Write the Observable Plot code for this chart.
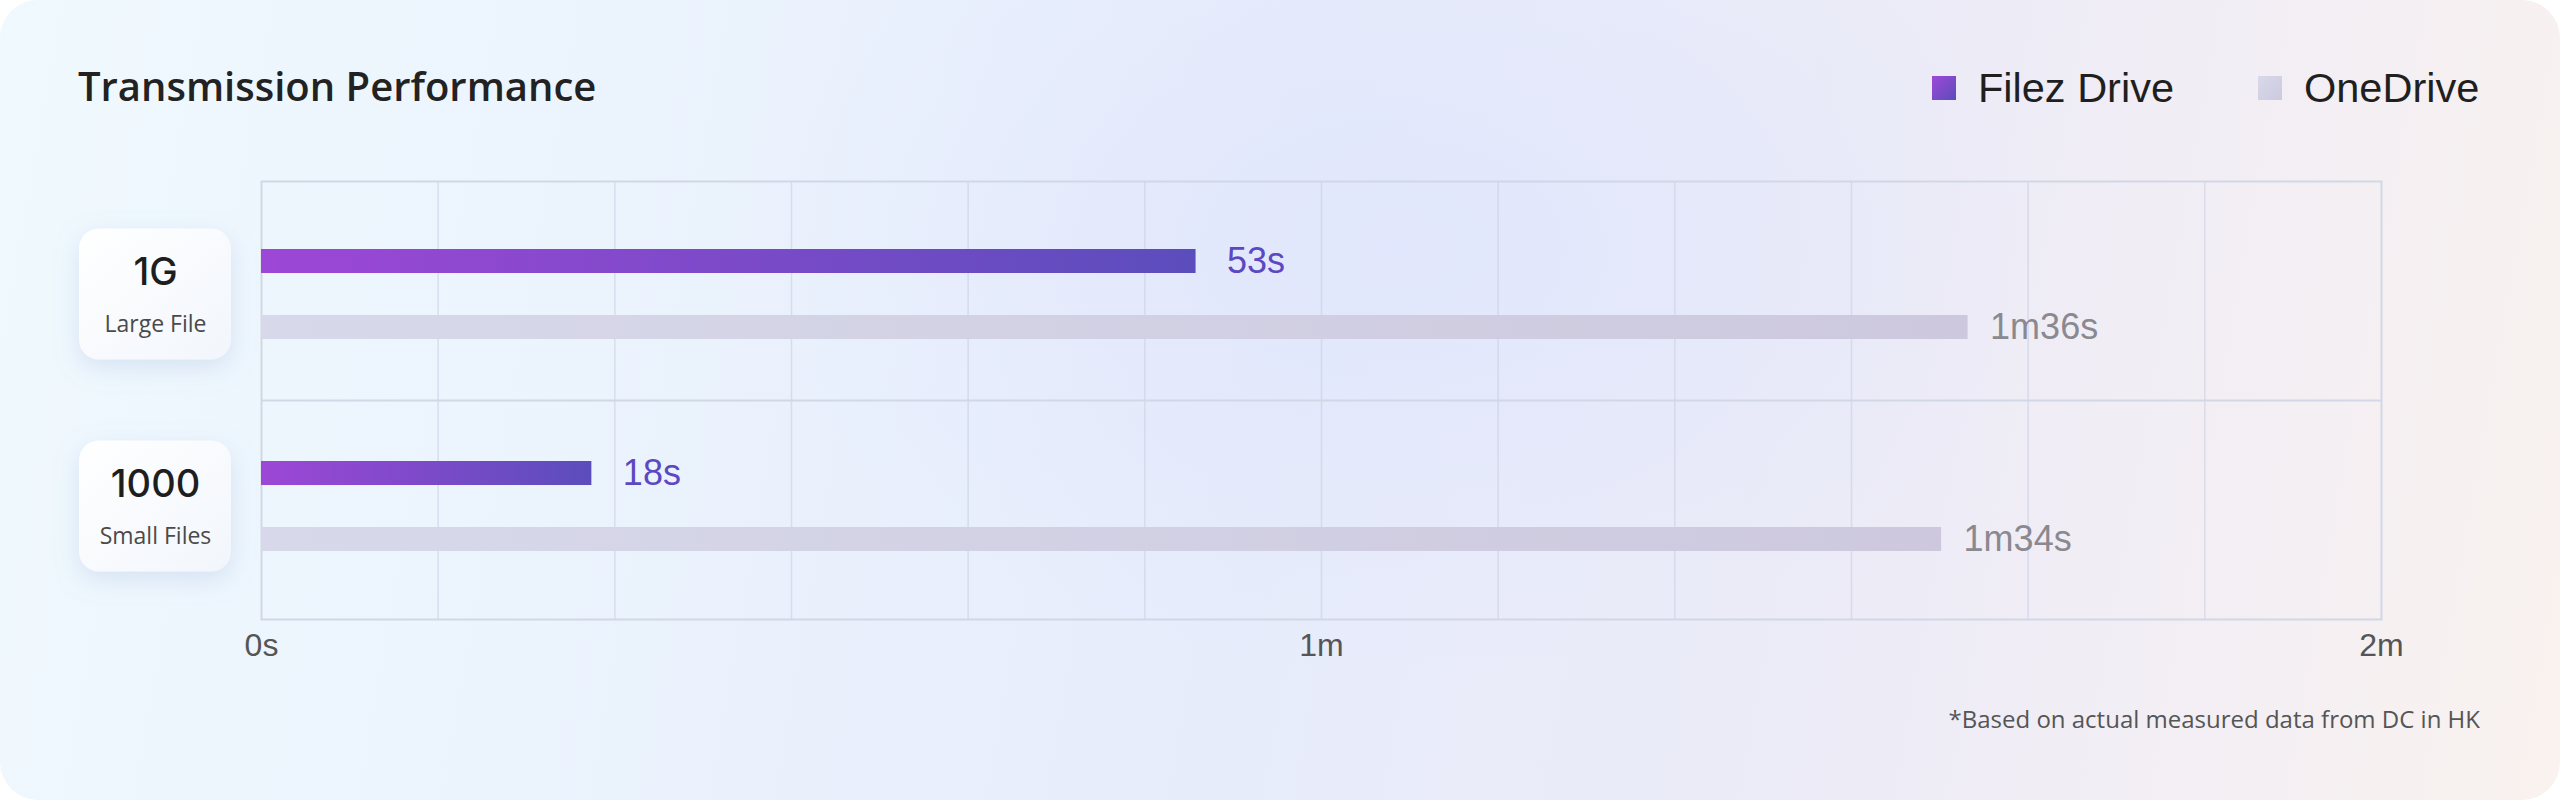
<!DOCTYPE html>
<html>
<head>
<meta charset="utf-8">
<script src="https://cdn.jsdelivr.net/npm/d3@7"></script>
<script src="https://cdn.jsdelivr.net/npm/@observablehq/plot@0.6"></script>
<style>
  html, body { margin: 0; padding: 0; background: #ffffff; }
  #card {
    position: relative; width: 2560px; height: 800px; border-radius: 38px; overflow: hidden;
    background:
      radial-gradient(ellipse 900px 600px at 1400px 250px, rgba(224,230,252,0.9), rgba(224,230,252,0) 70%),
      linear-gradient(100deg, #f0f9fd 0%, #ebf3fd 25%, #e7ecfb 50%, #ecebf7 72%, #f4eff3 88%, #f9f2ee 100%);
  }
  #title { position: absolute; left: 78px; top: 66px; font: 600 40px/40px "Open Sans", sans-serif; color: #222; white-space: nowrap; }
  .leg-sq { position: absolute; top: 76px; width: 24px; height: 24px; }
  .leg-tx { position: absolute; top: 67px; font: 400 41.5px/41.5px "Liberation Sans", Arial, sans-serif; color: #1f1f1f; white-space: nowrap; }
  #note { position: absolute; right: 80px; top: 707px; font: 400 24px/24px "Open Sans", sans-serif; color: #555; white-space: nowrap; }
  #chart { position: absolute; left: 0; top: 0; }
</style>
</head>
<body>
<div id="card">
  <div id="chart"></div>
  <div id="title"></div>
  <div id="legend"></div>
  <div id="note"></div>
</div>
<script>
const titleText = "Transmission Performance";
const noteText = "*Based on actual measured data from DC in HK";
const categories = ["1G", "1000"];
const categoryNotes = ["Large File", "Small Files"];
const series = ["Filez Drive", "OneDrive"];
const filezSeconds = [52.9, 18.7];
const oneDriveSeconds = [96.6, 95.1];
const filezLabels = ["53s", "18s"];
const oneDriveLabels = ["1m36s", "1m34s"];
const gridSeconds = [10, 20, 30, 40, 50, 60, 70, 80, 90, 100, 110];
const axisTicks = [0, 60, 120];
const axisLabels = ["0s", "1m", "2m"];
const legendLeft = [1932, 2258];
const legendFills = [
  "linear-gradient(135deg, #a048d8, #5a4dbb)",
  "linear-gradient(135deg, #d8d9ea, #cdc9df)"
];

document.getElementById("title").textContent = titleText;
document.getElementById("note").textContent = noteText;
const legend = document.getElementById("legend");
series.forEach((s, i) => {
  const sq = document.createElement("div");
  sq.className = "leg-sq"; sq.style.left = legendLeft[i] + "px"; sq.style.background = legendFills[i];
  const tx = document.createElement("div");
  tx.className = "leg-tx"; tx.style.left = (legendLeft[i] + 46) + "px"; tx.textContent = s;
  legend.appendChild(sq); legend.appendChild(tx);
});

const filezRows = categories.map((c, i) => ({category: c, series: series[0], value: filezSeconds[i], label: filezLabels[i]}));
const oneRows = categories.map((c, i) => ({category: c, series: series[1], value: oneDriveSeconds[i], label: oneDriveLabels[i]}));
const cats = categories.map((c, i) => ({category: c, note: categoryNotes[i]}));

// layout
const W = 2560, H = 800, mL = 261, mR = 179, mT = 181, mB = 181;
const rowPaddingOuter = 0.033;
const rowStep = (H - mT - mB) / (categories.length + 2 * rowPaddingOuter);
const barH = 24, barOffset = 33;
const barInset = (rowStep - barH) / 2;

const plot = Plot.plot({
  width: W, height: H,
  marginLeft: mL, marginRight: mR, marginTop: mT, marginBottom: mB,
  style: {background: "transparent", fontFamily: "'Liberation Sans', Arial, sans-serif", overflow: "visible"},
  x: {domain: [0, 120], label: null},
  y: {domain: categories, paddingInner: 0, paddingOuter: rowPaddingOuter, axis: null, round: false},
  marks: [
    Plot.ruleX(gridSeconds, {stroke: "#c6cce0", strokeOpacity: 0.55, strokeWidth: 1.5}),
    Plot.ruleY(categories.slice(1), {y: d => d, dy: -rowStep / 2, stroke: "#d2d7e5", strokeWidth: 2}),
    Plot.frame({stroke: "#d2d7e5", strokeWidth: 2}),
    Plot.barX(filezRows, {x: "value", y: "category", insetTop: barInset, insetBottom: barInset, dy: -barOffset, fill: "url(#gradFilez)"}),
    Plot.barX(oneRows, {x: "value", y: "category", insetTop: barInset, insetBottom: barInset, dy: barOffset, fill: "url(#gradOne)"}),
    Plot.text(filezRows, {x: "value", y: "category", text: "label", textAnchor: "start", dx: 31, dy: -barOffset, fontSize: 36, fill: "#5b48c2"}),
    Plot.text(oneRows, {x: "value", y: "category", text: "label", textAnchor: "start", dx: 22, dy: barOffset, fontSize: 36, fill: "#8a8990"}),
    Plot.text(cats, {y: "category", text: "category", frameAnchor: "left", dx: -106, dy: -22, textAnchor: "middle", fontSize: 38, fontWeight: 500, fontFamily: "Inter", fill: "#1e1e1e"}),
    Plot.text(cats, {y: "category", text: "note", frameAnchor: "left", dx: -106, dy: 30, textAnchor: "middle", fontSize: 23, fontFamily: "Open Sans", fill: "#4a4a4a"}),
    Plot.axisX({ticks: axisTicks, tickFormat: d => axisLabels[axisTicks.indexOf(d)], tickSize: 0, tickPadding: 14, fontSize: 32, fill: "#555", label: null, anchor: "bottom"})
  ]
});
document.getElementById("chart").appendChild(plot);

// gradients, shadows and category cards (positioned from the y scale)
const svg = d3.select(plot);
const defs = svg.insert("defs", ":first-child");
const gF = defs.append("linearGradient").attr("id", "gradFilez").attr("x1", 0).attr("x2", 1).attr("y1", 0).attr("y2", 0);
gF.append("stop").attr("offset", "0%").attr("stop-color", "#9d47d6");
gF.append("stop").attr("offset", "100%").attr("stop-color", "#5b4dbc");
const gO = defs.append("linearGradient").attr("id", "gradOne").attr("x1", 0).attr("x2", 1).attr("y1", 0).attr("y2", 0);
gO.append("stop").attr("offset", "0%").attr("stop-color", "#d7d9ea");
gO.append("stop").attr("offset", "100%").attr("stop-color", "#cdc8de");
const gC = defs.append("linearGradient").attr("id", "gradCard").attr("x1", 0).attr("x2", 1).attr("y1", 0).attr("y2", 1);
gC.append("stop").attr("offset", "0%").attr("stop-color", "#ffffff");
gC.append("stop").attr("offset", "100%").attr("stop-color", "#f2f6fc");
const sh = defs.append("filter").attr("id", "cardShadow").attr("x", "-50%").attr("y", "-50%").attr("width", "200%").attr("height", "200%");
sh.append("feDropShadow").attr("dx", 0).attr("dy", 8).attr("stdDeviation", 12).attr("flood-color", "#8ea6d6").attr("flood-opacity", 0.25);

const ys = plot.scale("y");
const cardW = 152, cardH = 131;
const cardG = svg.insert("g", "g");
categories.forEach(c => {
  const cy = ys.apply(c) + ys.bandwidth / 2;
  cardG.append("rect")
    .attr("x", 155 - cardW / 2).attr("y", cy - cardH / 2)
    .attr("width", cardW).attr("height", cardH).attr("rx", 20)
    .attr("fill", "url(#gradCard)").attr("filter", "url(#cardShadow)");
});
</script>
</body>
</html>
